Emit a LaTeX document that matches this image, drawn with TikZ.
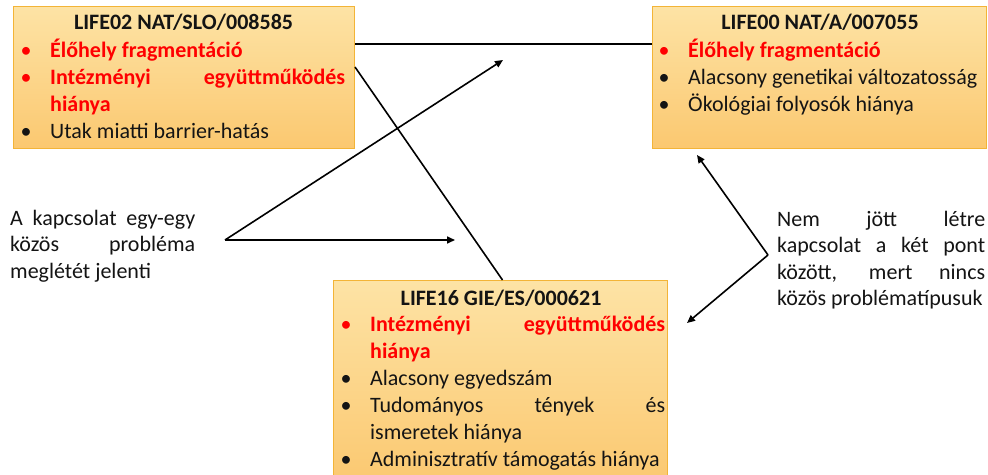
\documentclass[tikz,border=0pt]{standalone}
\usepackage{fontspec}
\setmainfont{Carlito}
\usetikzlibrary{arrows.meta}

\definecolor{boxtop}{RGB}{253,227,165}
\definecolor{boxbottom}{RGB}{251,200,112}
\definecolor{boxline}{RGB}{243,180,55}
\definecolor{probred}{RGB}{255,0,0}
\definecolor{probtext}{RGB}{20,20,20}

\hyphenpenalty=10000
\exhyphenpenalty=10000

% bullet lines inside the project boxes
\newcommand{\blkitem}[1]{\noindent\hangindent=29.5pt\hangafter=0%
  \llap{\makebox[29.5pt][l]{\textbullet}}#1\par}
\newcommand{\reditem}[1]{\noindent\hangindent=29.5pt\hangafter=0%
  \llap{\makebox[29.5pt][l]{\textcolor{probred}{\textbullet}}}%
  {\color{probred}\bfseries #1}\par}
% word spaces that stretch but never shrink
\newcommand{\wordspace}{\spaceskip=4.97pt plus 30pt\relax\xspaceskip=\spaceskip}

\tikzset{
  probbox/.style={draw=boxline, line width=1pt, top color=boxtop,
    bottom color=boxbottom, anchor=north west, inner sep=0pt},
  boxtitle/.style={anchor=base, inner sep=0pt, font=\fontsize{22}{27}\selectfont\bfseries},
  itemlist/.style={anchor=base west, inner sep=0pt, text width=#1, align=justify,
    font=\fontsize{22}{27}\selectfont\wordspace},
  note/.style={anchor=base west, inner sep=0pt, text width=#1, align=justify,
    font=\fontsize{22}{26.5}\selectfont\wordspace},
  link/.style={line width=1.6pt, draw=black},
  >={Triangle[length=8pt,width=7pt]},
}

\begin{document}
\begin{tikzpicture}[x=1pt, y=-1pt, text=probtext]
  \useasboundingbox (0,0) rectangle (988,474);
  \fill[white] (0,0) rectangle (988,474);

  % the three projects
  \node[probbox, minimum width=341pt, minimum height=142pt] (box1) at (13,6) {};
  \node[probbox, minimum width=334pt, minimum height=142pt] (box2) at (652,6) {};
  \node[probbox, minimum width=334pt, minimum height=205pt] (box3) at (333,280) {};

  \node[boxtitle] (title1) at (183.5,29) {LIFE02 NAT/SLO/008585};
  \node[itemlist=324.5pt] (list1) at (20.5,57) {%
    \reditem{Élőhely fragmentáció}
    \reditem{Intézményi együttműködés hiánya}
    \blkitem{Utak miatti barrier-hatás}};

  \node[boxtitle] (title2) at (820,29) {LIFE00 NAT/A/007055};
  \node[itemlist=321pt] (list2) at (658.5,57) {%
    \reditem{Élőhely fragmentáció}
    \blkitem{Alacsony genetikai változatosság}
    \blkitem{Ökológiai folyosók hiánya}};

  \node[boxtitle] (title3) at (501,305) {LIFE16 GIE/ES/000621};
  \node[itemlist=324.5pt] (list3) at (340.5,331) {%
    \reditem{Intézményi együttműködés hiánya}
    \blkitem{Alacsony egyedszám}
    \blkitem{Tudományos tények és ismeretek hiánya}
    \blkitem{Adminisztratív támogatás hiánya}};

  % links between the boxes
  \draw[link] ([yshift=-38pt]box1.north east) -- ([yshift=-38pt]box2.north west);
  \draw[link] ([yshift=-61pt]box1.north east) -- ([xshift=2pt]box3.north);

  % explanations
  \node[note=185pt] (noteL) at (10,225) {A kapcsolat egy-egy közös probléma meglétét jelenti};
  \node[note=208pt] (noteR) at (777,226) {Nem jött létre kapcsolat a két pont között, mert nincs közös problématípusuk};

  \coordinate (hubL) at (225,240);
  \coordinate (tipU) at (503,60);
  \coordinate (tipR) at (455,240);
  \draw[link,->] (hubL) -- (tipU);
  \draw[link,->] (hubL) -- (tipR);

  \coordinate (hubR) at (768,255);
  \coordinate (tipN) at (697,155);
  \coordinate (tipS) at (687,323);
  \draw[link,->] (hubR) -- (tipN);
  \draw[link,->] (hubR) -- (tipS);
\end{tikzpicture}
\end{document}
